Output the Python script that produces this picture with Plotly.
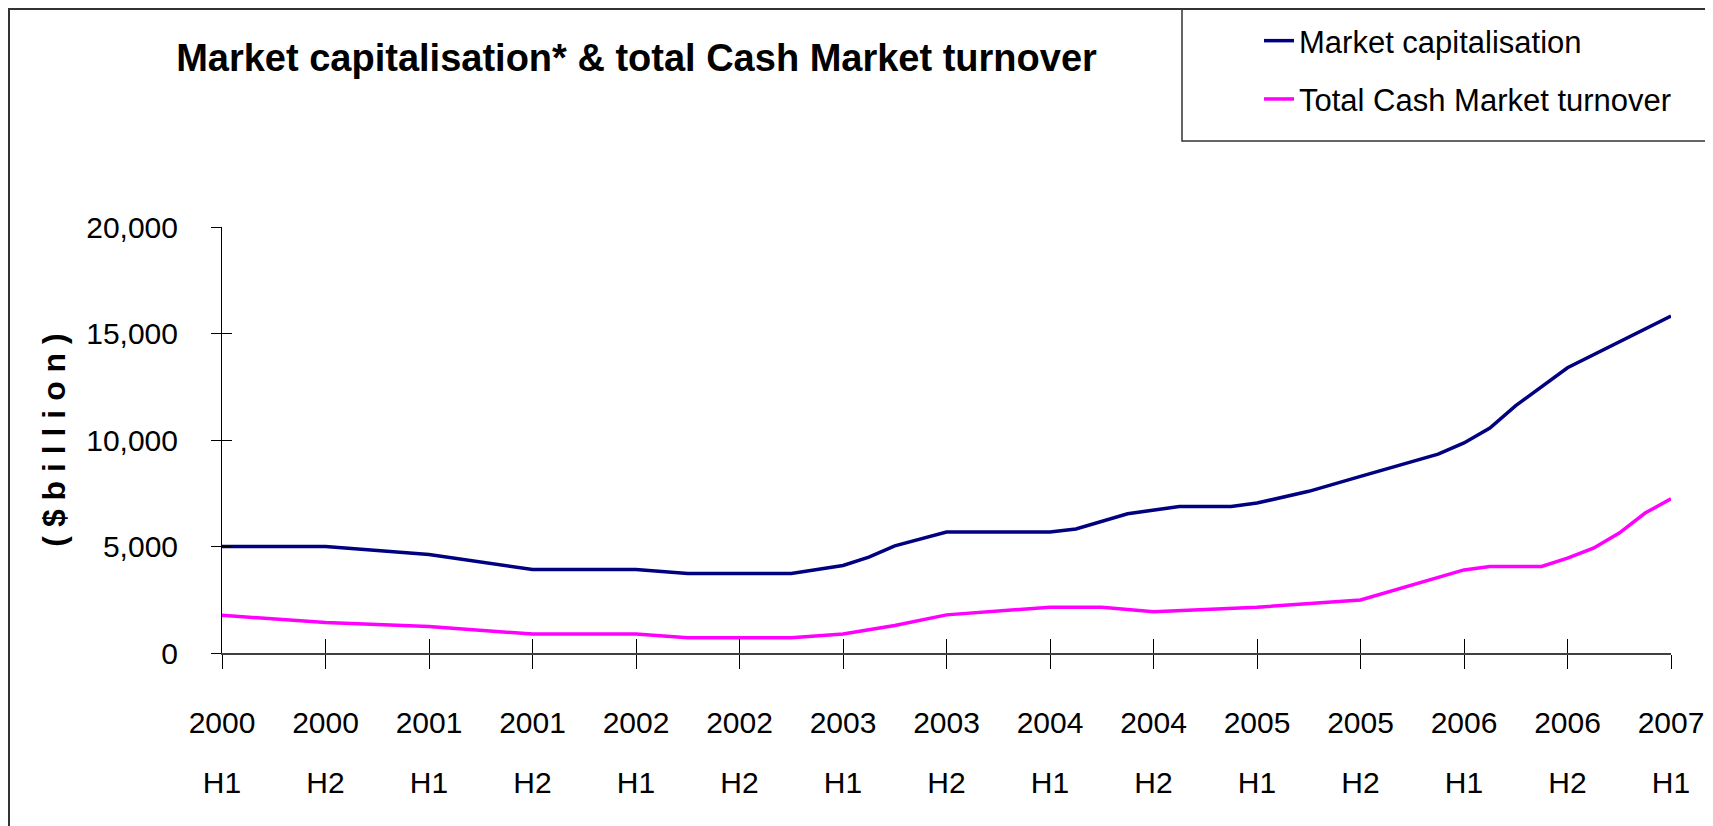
import plotly.graph_objects as go

# ---- data (half-year period index: 0 = 2000 H1 ... 14 = 2007 H1) ----
tick_years = ["2000", "2000", "2001", "2001", "2002", "2002", "2003", "2003",
              "2004", "2004", "2005", "2005", "2006", "2006", "2007"]
tick_halves = ["H1", "H2", "H1", "H2", "H1", "H2", "H1", "H2",
               "H1", "H2", "H1", "H2", "H1", "H2", "H1"]

mcap_x = [0, 1, 2, 2.5, 3, 4, 4.5, 5.5, 6, 6.25, 6.5, 7, 8, 8.25, 8.5, 8.75,
          9.25, 9.75, 10, 10.5, 11, 11.75, 12, 12.25, 12.5, 13, 14]
mcap_vals = [5000, 5000, 4620, 4270, 3920, 3920, 3730, 3730, 4110, 4500, 5030,
             5680, 5680, 5820, 6180, 6540, 6880, 6880, 7040, 7590, 8290, 9340,
             9860, 10560, 11610, 13390, 15820]

turn_x = [0, 1, 2, 3, 4, 4.5, 5.5, 6, 6.5, 7, 8, 8.5, 9, 10, 11, 12, 12.25,
          12.75, 13, 13.25, 13.5, 13.75, 14]
turn_vals = [1770, 1430, 1240, 890, 890, 720, 720, 890, 1290, 1790, 2150, 2150,
             1940, 2150, 2490, 3900, 4060, 4060, 4450, 4920, 5630, 6570, 7240]

series_names = ["Market capitalisation", "Total Cash Market turnover"]
y_ticks = [0, 5000, 10000, 15000, 20000]

# ---- geometry (the page body adds an 8px offset) ----
OFF = 8
W, H = 1705, 818
ML, MT, PW, PH = 214, 219, 1449, 426
MR, MB = W - ML - PW, H - MT - PH

def px(x):  # screen x -> paper
    return (x - OFF - ML) / PW

def py(y):  # screen y -> paper
    return (OFF + MT + PH - y) / PH

FONT = "Liberation Sans, Arial, sans-serif"

fig = go.Figure()
fig.add_trace(go.Scatter(x=mcap_x, y=mcap_vals, mode="lines", name=series_names[0],
                         legendgroup="a", line=dict(color="#000080", width=3.5)))
fig.add_trace(go.Scatter(x=turn_x, y=turn_vals, mode="lines", name=series_names[1],
                         legendgroup="b", line=dict(color="#FF00FF", width=3.5)))
# helper trace for the inner half of the crossing tick marks
fig.add_trace(go.Scatter(x=[None], y=[None], xaxis="x2", yaxis="y2",
                         showlegend=False, hoverinfo="skip"))

fig.update_layout(
    width=W, height=H,
    margin=dict(l=ML, r=MR, t=MT, b=MB, autoexpand=False),
    paper_bgcolor="white", plot_bgcolor="white",
    title=dict(text="<b>Market capitalisation* & total Cash Market turnover</b>",
               font=dict(family=FONT, size=38, color="black"),
               xref="container", yref="container",
               x=(636.5 - OFF) / W, xanchor="center",
               y=1 - 50 / H, yanchor="middle"),
    showlegend=True,
    legend=dict(x=px(1259), y=py(14), xanchor="left", yanchor="top",
                font=dict(family=FONT, size=31, color="black"),
                bgcolor="rgba(0,0,0,0)", borderwidth=0, tracegroupgap=15,
                traceorder="grouped"),
    xaxis=dict(range=[0, 14], tickvals=list(range(15)), ticktext=tick_years,
               ticks="outside", ticklen=14, tickwidth=1, tickcolor="black",
               showline=True, linecolor="#404040", linewidth=1.5,
               showgrid=False, zeroline=False, ticklabelstandoff=28,
               automargin=False,
               tickfont=dict(family=FONT, size=30, color="black")),
    yaxis=dict(range=[0, 20000], tickvals=y_ticks, tickformat=",d",
               ticks="outside", ticklen=10, tickwidth=1, tickcolor="black",
               showline=True, linecolor="black", linewidth=1,
               showgrid=False, zeroline=False, ticklabelstandoff=27,
               automargin=False,
               tickfont=dict(family=FONT, size=30, color="black"),
               title=dict(text="<b>( $ b i l l i o n )</b>", standoff=11,
                          font=dict(family=FONT, size=32, color="black"))),
    xaxis2=dict(range=[0, 14], tickvals=list(range(15)), ticktext=tick_halves,
                overlaying="x", anchor="y2", side="bottom",
                ticks="inside", ticklen=14, tickwidth=1, tickcolor="black",
                showline=False, showgrid=False, zeroline=False,
                ticklabelposition="outside", ticklabelstandoff=109,
                automargin=False,
                tickfont=dict(family=FONT, size=30, color="black")),
    yaxis2=dict(range=[0, 20000], tickvals=y_ticks, overlaying="y", anchor="x2",
                side="left", ticks="inside", ticklen=10, tickwidth=1,
                tickcolor="black", showticklabels=False, showline=False,
                showgrid=False, zeroline=False, automargin=False),
    shapes=[
        dict(type="rect", xref="paper", yref="paper",
             x0=px(9), x1=px(1707), y0=py(840), y1=py(9),
             line=dict(color="#333333", width=2), fillcolor="rgba(0,0,0,0)", layer="below"),
        dict(type="rect", xref="paper", yref="paper",
             x0=px(1182), x1=px(1707), y0=py(141), y1=py(9),
             line=dict(color="#333333", width=1.5), fillcolor="rgba(0,0,0,0)", layer="below"),
    ],
)

fig.write_html("out.html")
